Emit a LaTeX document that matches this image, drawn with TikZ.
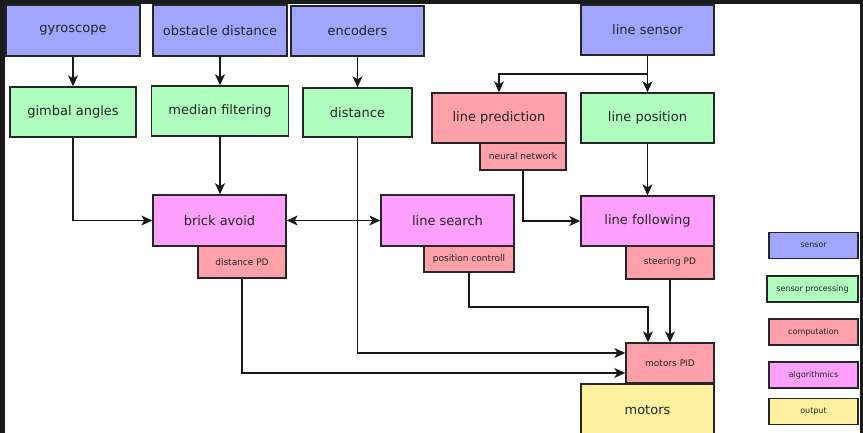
\documentclass[tikz,border=0pt]{standalone}
\usepackage{fontspec}
\setmainfont{DejaVu Sans}
\usetikzlibrary{arrows.meta}

\definecolor{sensorcol}{RGB}{160,165,255}
\definecolor{proccol}{RGB}{175,255,190}
\definecolor{compcol}{RGB}{255,160,170}
\definecolor{algocol}{RGB}{255,160,255}
\definecolor{outcol}{RGB}{255,240,160}
\definecolor{framecol}{RGB}{26,26,26}

\begin{document}
\begin{tikzpicture}[x=1pt,y=-1pt,
  box/.style={draw=black!85,line width=1.4pt,inner sep=0pt,text=black!85,
    font=\fontsize{13}{15}\selectfont},
  sub/.style={box,font=\fontsize{9}{11}\selectfont},
  key/.style={box,font=\fontsize{8}{10}\selectfont,minimum width=89pt,minimum height=26pt},
  tip/.tip={Stealth[length=11pt,width=10pt,inset=3pt]},
  arr/.style={-tip,line width=1.3pt,black!90}]

% frame round the sheet
\fill[framecol] (0,0) rectangle (863,433);
\fill[white] (5,4) rectangle (860,433);
\useasboundingbox (0,0) rectangle (863,433);

% sensors
\node[box,fill=sensorcol,minimum width=134pt,minimum height=51pt] (gyro) at (73,30.5) {gyroscope};
\node[box,fill=sensorcol,minimum width=134pt,minimum height=51pt] (obstacle) at (220,30.5) {obstacle distance};
\node[box,fill=sensorcol,minimum width=133pt,minimum height=50pt] (encoders) at (357.5,31) {encoders};
\node[box,fill=sensorcol,minimum width=133pt,minimum height=50pt] (linesensor) at (647.5,30) {line sensor};

% sensor processing
\node[box,fill=proccol,minimum width=126pt,minimum height=50pt] (gimbal) at (73,112) {gimbal angles};
\node[box,fill=proccol,minimum width=137pt,minimum height=50pt] (median) at (220,111) {median filtering};
\node[box,fill=proccol,minimum width=109pt,minimum height=49pt] (distance) at (357.5,112.5) {distance};
\node[box,fill=proccol,minimum width=133pt,minimum height=50pt] (linepos) at (647.5,118) {line position};

\node[box,fill=compcol,minimum width=134pt,minimum height=50pt] (linepred) at (499,118) {line prediction};
\node[sub,fill=compcol,minimum width=86pt,minimum height=27pt] (neural) at (523,156.5) {neural network};

% algorithms
\node[box,fill=algocol,minimum width=133pt,minimum height=51pt] (brick) at (219.5,220.5) {brick avoid};
\node[sub,fill=compcol,minimum width=88pt,minimum height=32pt] (distpd) at (242,262) {distance PD};
\node[box,fill=algocol,minimum width=133pt,minimum height=51pt] (linesearch) at (447.5,220.5) {line search};
\node[sub,fill=compcol,minimum width=90pt,minimum height=26pt] (posctl) at (469,259) {position controll};
\node[box,fill=algocol,minimum width=133pt,minimum height=50pt] (linefollow) at (647.5,221) {line following};
\node[sub,fill=compcol,minimum width=88pt,minimum height=33pt] (steering) at (670,262.5) {steering PD};

% output
\node[box,fill=outcol,minimum width=133pt,minimum height=52pt] (motors) at (647.5,410) {motors};
\node[sub,fill=compcol,minimum width=88pt,minimum height=40pt] (motorspid) at (670,363) {motors PID};

% legend
\node[key,fill=sensorcol] (ksensor) at (813.5,245.5) {sensor};
\node[key,fill=proccol,minimum width=91pt] (kproc) at (812.5,289) {sensor processing};
\node[key,fill=compcol] (kcomp) at (813.5,332) {computation};
\node[key,fill=algocol] (kalgo) at (813.5,375) {algorithmics};
\node[key,fill=outcol] (kout) at (813.5,411.5) {output};

% connections
\coordinate (split) at (647.5,74);
\coordinate (pcbend) at (648,307);

\draw[arr] (gyro) -- (gimbal);
\draw[arr] (obstacle) -- (median);
\draw[arr] (encoders) -- (distance);
\draw[arr] (linesensor) -- (linepos);
\draw[arr] (split) -| (linepred);

\draw[arr] (gimbal) |- (brick);
\draw[arr] (median) -- (median |- brick.north);
\draw[arr,tip-tip] (brick) -- (linesearch);
\draw[arr] (neural) |- (linefollow);
\draw[arr] (linepos) -- (linefollow);

\draw[arr] (distance) |- ([yshift=10pt]motorspid.west);
\draw[arr] (distpd) |- ([yshift=-10pt]motorspid.west);
\draw[arr] (posctl) |- (pcbend) -- (pcbend |- motorspid.north);
\draw[arr] (steering) -- (motorspid);

\end{tikzpicture}
\end{document}
